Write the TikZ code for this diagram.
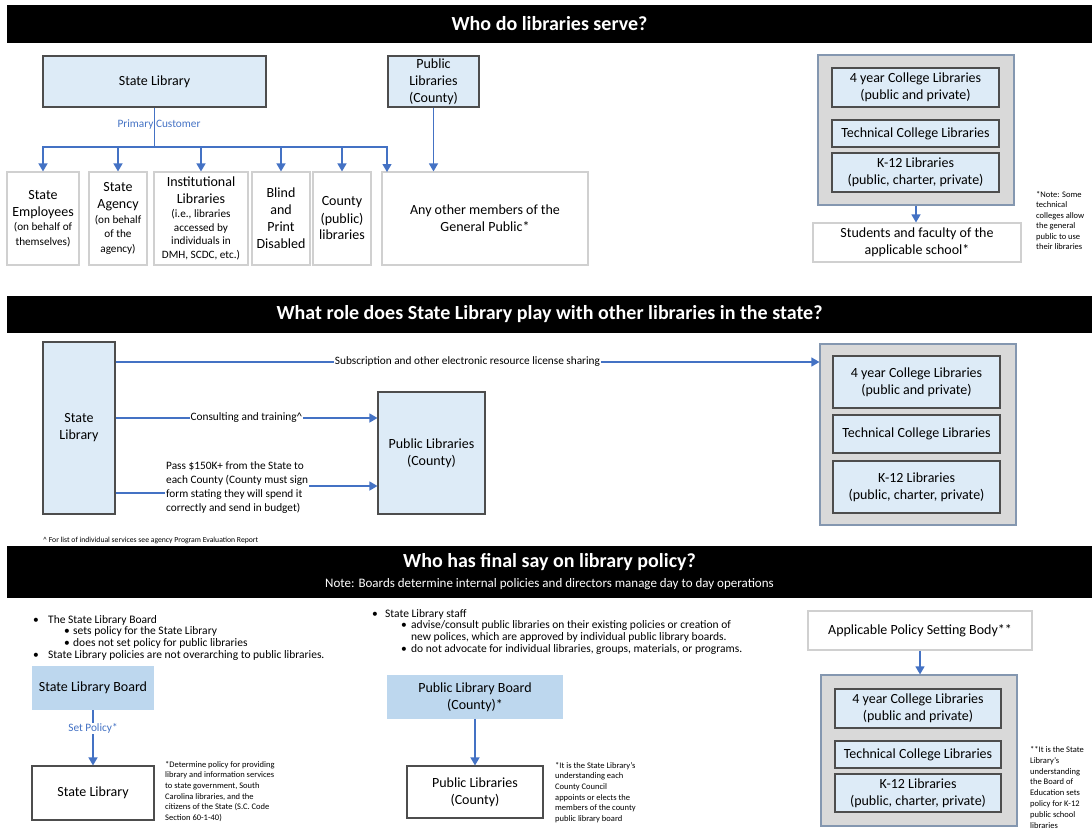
\documentclass[tikz,border=0pt]{standalone}
\usepackage{fontspec}
\setmainfont{Carlito}
\usetikzlibrary{arrows.meta}
\definecolor{lblue}{HTML}{DDEBF7}
\definecolor{bblue}{HTML}{BDD7EE}
\definecolor{dborder}{HTML}{4D4D4D}
\definecolor{lborder}{HTML}{D0D0D0}
\definecolor{cgray}{HTML}{D9D9D9}
\definecolor{cborder}{HTML}{8497B0}
\definecolor{ablue}{HTML}{4472C4}
\newcommand\fsz[2]{\fontsize{#1}{#2}\selectfont}
\newcommand\sml{\fsz{11.2}{13.8}}
\begin{document}
\begin{tikzpicture}[x=1pt,y=-1pt,
  box/.style={draw=dborder, line width=1.1pt, fill=lblue, align=center, inner sep=0pt, font=\fsz{14}{17}},
  wbox/.style={draw=lborder, line width=1.1pt, fill=white, align=center, inner sep=0pt, font=\fsz{14}{17}},
  kbox/.style={draw=dborder, line width=1.1pt, fill=white, align=center, inner sep=0pt, font=\fsz{14}{17}},
  bdbox/.style={fill=bblue, draw=none, align=center, inner sep=0pt, font=\fsz{14}{17}},
  cont/.style={draw=cborder, line width=1.2pt, fill=cgray, inner sep=0pt},
  bar/.style={fill=black, draw=none, inner sep=0pt},
  ttl/.style={text=white, font=\bfseries\fsz{20}{24}, inner sep=0pt},
  arr/.style={draw=ablue, line width=1.3pt, -{Triangle[width=9pt,length=8pt]}},
  ln/.style={draw=ablue, line width=1.3pt},
  lbl/.style={font=\fsz{11.3}{13}, inner sep=1pt, fill=white},
  note/.style={font=\fsz{8.5}{10.6}, align=left, anchor=north west, inner sep=0pt},
  btxt/.style={font=\fsz{11.5}{12}, anchor=base west, inner sep=0pt}
]
\useasboundingbox (0,0) rectangle (1092,831);

% ---------------- Section 1 ----------------
\node[bar, minimum width=1085pt, minimum height=38pt] (bar1) at (549.5,24) {};
\node[ttl] (t1) at (549.5,24) {Who do libraries serve?};

\node[box, minimum width=223pt, minimum height=51pt] (sl1) at (154.5,81.5) {State Library};
\node[box, minimum width=91pt, minimum height=51pt] (pl1) at (433.5,81.5) {Public\\Libraries\\(County)};

\node[wbox, minimum width=72pt, minimum height=93pt] (se) at (43,218.5) {State\\Employees\\[-2.3pt]\sml(on behalf of\\[-2.3pt]\sml themselves)};
\node[wbox, minimum width=58pt, minimum height=93pt] (sa) at (118,218.5) {State\\Agency\\[-2.6pt]\sml(on behalf\\[-2.6pt]\sml of the\\[-2.6pt]\sml agency)};
\node[wbox, minimum width=94pt, minimum height=93pt] (il) at (201,218.5) {Institutional\\Libraries\\[-3.2pt]\sml(i.e., libraries\\[-3.2pt]\sml accessed by\\[-3.2pt]\sml individuals in\\[-3.2pt]\sml DMH, SCDC, etc.)};
\node[wbox, minimum width=58pt, minimum height=93pt] (bp) at (281,218.5) {Blind\\and\\Print\\Disabled};
\node[wbox, minimum width=58pt, minimum height=93pt] (cp) at (342,218.5) {County\\(public)\\libraries};
\node[wbox, minimum width=206pt, minimum height=93pt] (ao) at (485,218.5) {Any other members of the\\General Public*};
\coordinate (ao1) at (387,172);

\coordinate (br) at (154.5,147);
\draw[ln] (sl1.south) -- (br);
\node[font=\fsz{11.3}{13}, text=ablue, inner sep=0pt] (pc) at (159,125) {Primary Customer};
\draw[arr] (br) -| (se.north);
\draw[arr] (br) -| (sa.north);
\draw[arr] (br) -| (il.north);
\draw[arr] (br) -| (bp.north);
\draw[arr] (br) -| (cp.north);
\draw[arr] (br) -| (ao1);
\draw[arr] (pl1.south) -- (pl1.south |- ao.north);

\node[cont, minimum width=196pt, minimum height=150pt] (c1) at (916,130) {};
\node[box, minimum width=167pt, minimum height=39pt] (c1a) at (915.5,87.5) {4 year College Libraries\\(public and private)};
\node[box, minimum width=167pt, minimum height=27pt] (c1b) at (915.5,133.5) {Technical College Libraries};
\node[box, minimum width=167pt, minimum height=39pt] (c1c) at (915.5,172.5) {K-12 Libraries\\(public, charter, private)};
\node[wbox, minimum width=208pt, minimum height=39pt] (st) at (917,242.5) {Students and faculty of the\\applicable school*};
\draw[arr] (c1.south) -- (c1.south |- st.north);
\node[note, font=\fsz{8.5}{10.5}] (n1) at (1036,191) {*Note: Some\\technical\\colleges allow\\the general\\public to use\\their libraries};

% ---------------- Section 2 ----------------
\node[bar, minimum width=1085pt, minimum height=37pt] (bar2) at (549.5,314.5) {};
\node[ttl] (t2) at (549.5,314.5) {What role does State Library play with other libraries in the state?};

\node[box, minimum width=72pt, minimum height=172pt] (sl2) at (79,428) {State\\Library};
\node[box, minimum width=107pt, minimum height=122pt] (pl2) at (431.5,453) {Public Libraries\\(County)};
\node[cont, minimum width=196pt, minimum height=181pt] (c2) at (918,434.5) {};
\node[box, minimum width=167pt, minimum height=52pt] (c2a) at (916.5,382) {4 year College Libraries\\(public and private)};
\node[box, minimum width=167pt, minimum height=38pt] (c2b) at (916.5,434) {Technical College Libraries};
\node[box, minimum width=167pt, minimum height=52pt] (c2c) at (916.5,487) {K-12 Libraries\\(public, charter, private)};

\draw[arr] (sl2.east |- 0,362) -- node[lbl] (lab1) {Subscription and other electronic resource license sharing} (c2.west |- 0,362);
\draw[arr] (sl2.east |- 0,418) -- node[lbl] (lab2) {Consulting and training\textasciicircum} (pl2.west |- 0,418);
\node[font=\fsz{11.3}{14}, align=left, anchor=west, inner sep=0pt] (pass) at (166,488) {Pass \$150K+ from the State to\\each County (County must sign\\form stating they will spend it\\correctly and send in budget)};
\draw[ln] (sl2.east |- 0,493) -- ([xshift=-1pt]pass.west |- 0,493);
\draw[arr] ([xshift=1pt]pass.east |- 0,486) -- (pl2.west |- 0,486);
\node[anchor=west, font=\fsz{7.7}{9}, inner sep=0pt] (fn) at (43,540) {\textasciicircum{} For list of individual services see agency Program Evaluation Report};

% ---------------- Section 3 ----------------
\node[bar, minimum width=1085pt, minimum height=52pt] (bar3) at (549.5,572) {};
\node[ttl] (t3) at (549.5,562) {Who has final say on library policy?};
\node[text=white, font=\fsz{13}{15}, inner sep=0pt] (t3b) at (549.5,584) {Note: Boards determine internal policies and directors manage day to day operations};

% left bullets
\node[btxt] (b1d) at (33,623) {•};
\node[btxt] (b1) at (48,623) {The State Library Board};
\node[btxt] (b2d) at (64,634) {•};
\node[btxt] (b2) at (73,634) {sets policy for the State Library};
\node[btxt] (b3d) at (64,646) {•};
\node[btxt] (b3) at (73,646) {does not set policy for public libraries};
\node[btxt] (b4d) at (33,658) {•};
\node[btxt] (b4) at (48,658) {State Library policies are not overarching to public libraries.};

\node[bdbox, minimum width=122pt, minimum height=44pt] (slb) at (93,688) {State Library Board};
\node[kbox, minimum width=122pt, minimum height=54pt] (sl3) at (93,793) {State Library};
\draw[arr] (slb.south) -- node[lbl, text=ablue, pos=0.33] (lab3) {Set Policy*} (sl3.north);
\node[note] (n2) at (165,761) {*Determine policy for providing\\library and information services\\to state government, South\\Carolina libraries, and the\\citizens of the State (S.C. Code\\Section 60-1-40)};

% middle bullets
\node[btxt] (m1d) at (372,617) {•};
\node[btxt] (m1) at (385,617) {State Library staff};
\node[btxt] (m2d) at (401,628) {•};
\node[btxt] (m2) at (411,628) {advise/consult public libraries on their existing policies or creation of};
\node[btxt] (m3) at (411,640) {new polices, which are approved by individual public library boards.};
\node[btxt] (m4d) at (401,652) {•};
\node[btxt] (m4) at (411,652) {do not advocate for individual libraries, groups, materials, or programs.};

\node[bdbox, minimum width=176pt, minimum height=44pt] (plb) at (475,697) {Public Library Board\\(County)*};
\node[kbox, minimum width=136pt, minimum height=52pt] (pl3) at (475,792) {Public Libraries\\(County)};
\draw[arr] (plb.south) -- (pl3.north);
\node[note] (n3) at (555,762) {*It is the State Library's\\understanding each\\County Council\\appoints or elects the\\members of the county\\public library board};

% right
\node[wbox, minimum width=224pt, minimum height=39pt] (apb) at (920,630.5) {Applicable Policy Setting Body**};
\node[cont, minimum width=196pt, minimum height=151pt] (c3) at (919,750.5) {};
\node[box, minimum width=166pt, minimum height=39pt] (c3a) at (918,708.5) {4 year College Libraries\\(public and private)};
\node[box, minimum width=166pt, minimum height=27pt] (c3b) at (918,754.5) {Technical College Libraries};
\node[box, minimum width=166pt, minimum height=38pt] (c3c) at (918,793) {K-12 Libraries\\(public, charter, private)};
\draw[arr] (apb.south) -- (apb.south |- c3.north);
\node[note, font=\fsz{8.5}{10.9}] (n4) at (1030,746) {**It is the State\\Library's\\understanding\\the Board of\\Education sets\\policy for K-12\\public school\\libraries};
\end{tikzpicture}
\end{document}
